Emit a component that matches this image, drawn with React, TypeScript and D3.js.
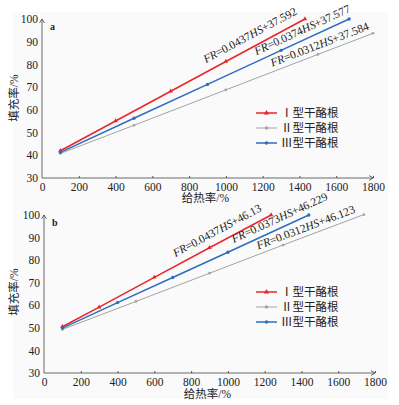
import React, { useRef, useEffect } from 'react';
import * as d3 from 'd3';

// tick values shared by both panels
const xTicks = [0, 200, 400, 600, 800, 1000, 1200, 1400, 1600, 1800];
const yTicks = [30, 40, 50, 60, 70, 80, 90, 100];

const seriesNames = ['Ⅰ型干酪根', 'Ⅱ型干酪根', 'Ⅲ型干酪根'];
const seriesColors = ['#e8262a', '#a3a3a3', '#2e6cc0'];

// panel a
const aRedX = [100, 400, 700, 1000, 1430];
const aRedY = [42.0, 55.1, 68.2, 81.3, 100.0];
const aGrayX = [100, 500, 1000, 1500, 1800];
const aGrayY = [40.8, 53.2, 68.8, 84.4, 93.7];
const aBlueX = [100, 500, 900, 1300, 1670];
const aBlueY = [41.3, 56.3, 71.2, 86.2, 100.0];
const aEquations = [
  ['0.0437', '37.592'],
  ['0.0312', '37.584'],
  ['0.0374', '37.577'],
];

// panel b
const bRedX = [100, 300, 600, 900, 1235];
const bRedY = [50.5, 59.2, 72.4, 85.5, 100.0];
const bGrayX = [100, 500, 900, 1300, 1740];
const bGrayY = [49.3, 61.7, 74.2, 86.7, 100.2];
const bBlueX = [100, 400, 700, 1000, 1440];
const bBlueY = [49.9, 61.2, 72.3, 83.5, 100.0];
const bEquations = [
  ['0.0437', '46.13'],
  ['0.0312', '46.123'],
  ['0.0373', '46.229'],
];

const SERIF = '"Liberation Serif", "Times New Roman", "Noto Sans CJK SC", serif';
const CJK = '"Liberation Serif", "Noto Sans CJK SC", serif';

const panels = [
  {
    letter: 'a',
    xRange: [42, 373], yRange: [178, 19],
    series: [[aRedX, aRedY], [aGrayX, aGrayY], [aBlueX, aBlueY]],
    eq: aEquations,
    eqStart: [912, 1262, 1180], eqOff: [8, 5, 6],
    legendY: 113, xTitleY: 202, yTitleY: 98,
  },
  {
    letter: 'b',
    xRange: [44, 375], yRange: [373, 215],
    series: [[bRedX, bRedY], [bGrayX, bGrayY], [bBlueX, bBlueY]],
    eq: bEquations,
    eqStart: [735, 1175, 1045], eqOff: [8, 5, 6],
    legendY: 292, xTitleY: 398, yTitleY: 292,
  },
];

const App = () => {
  const svgRef = useRef(null);

  useEffect(() => {
    const svg = d3.select(svgRef.current);
    svg.selectAll('*').remove();

    svg.append('rect')
      .attr('x', 13).attr('y', 12)
      .attr('width', 375).attr('height', 387)
      .attr('fill', '#fafafa');

    panels.forEach(p => {
      const g = svg.append('g');
      const x = d3.scaleLinear().domain([0, 1800]).range(p.xRange);
      const y = d3.scaleLinear().domain([30, 100]).range(p.yRange);

      // axes
      const xAxis = g.append('g')
        .attr('transform', `translate(0,${y(30)})`)
        .call(d3.axisBottom(x).tickValues(xTicks).tickFormat(d3.format('d'))
          .tickSizeInner(-2).tickSizeOuter(0).tickPadding(5));
      const yAxis = g.append('g')
        .attr('transform', `translate(${x(0)},0)`)
        .call(d3.axisLeft(y).tickValues(yTicks).tickFormat(d3.format('d'))
          .tickSizeInner(0).tickSizeOuter(0).tickPadding(4));
      [xAxis, yAxis].forEach(ax => {
        ax.select('.domain').remove();
        ax.selectAll('line').attr('stroke', '#555');
        ax.selectAll('text')
          .style('font-family', SERIF)
          .style('font-size', '11.5px')
          .attr('fill', '#222');
      });
      xAxis.selectAll('.tick').filter(d => d === 0).select('line').remove();

      // axis lines with arrow heads
      g.append('path')
        .attr('d', `M${x(0)},${y(30)}H${x(1800)}M${x(1800) - 4},${y(30) - 2.5}L${x(1800)},${y(30)}L${x(1800) - 4},${y(30) + 2.5}`)
        .attr('fill', 'none').attr('stroke', '#444').attr('stroke-width', 0.8);
      g.append('path')
        .attr('d', `M${x(0)},${y(30)}V${y(100)}M${x(0) - 2.5},${y(100) + 4}L${x(0)},${y(100)}L${x(0) + 2.5},${y(100) + 4}`)
        .attr('fill', 'none').attr('stroke', '#444').attr('stroke-width', 0.8);

      // series lines and markers
      const line = d3.line().x(d => x(d[0])).y(d => y(d[1]));
      p.series.forEach(([xs, ys], i) => {
        const pts = xs.map((v, k) => [v, ys[k]]);
        g.append('path')
          .attr('d', line(pts))
          .attr('fill', 'none')
          .attr('stroke', seriesColors[i])
          .attr('stroke-width', i === 1 ? 1 : 1.5);
        const sym = i === 0 ? d3.symbolTriangle : d3.symbolCircle;
        const size = i === 0 ? 9 : i === 1 ? 6 : 9;
        g.selectAll(null).data(pts).enter().append('path')
          .attr('d', d3.symbol().type(sym).size(size))
          .attr('transform', d => `translate(${x(d[0])},${y(d[1])})`)
          .attr('fill', seriesColors[i]);
      });

      // equation labels along lines
      p.series.forEach(([xs, ys], i) => {
        const n = xs.length - 1;
        const k = (ys[n] - ys[0]) / (xs[n] - xs[0]);
        const hs = p.eqStart[i];
        const px = x(hs);
        const py = y(ys[0] + k * (hs - xs[0]));
        const ang = Math.atan2(y(ys[0] + k * 100) - y(ys[0]), x(100) - x(0));
        const t = g.append('text')
          .attr('transform', `translate(${px},${py}) rotate(${ang * 180 / Math.PI}) translate(0,${-p.eqOff[i]})`)
          .style('font-family', SERIF)
          .style('font-size', '11.5px')
          .attr('fill', '#222');
        t.append('tspan').style('font-style', 'italic').text('FR');
        t.append('tspan').text(`=${p.eq[i][0]}`);
        t.append('tspan').style('font-style', 'italic').text('HS');
        t.append('tspan').text(`+${p.eq[i][1]}`);
      });

      // legend
      seriesNames.forEach((name, i) => {
        const ly = p.legendY + i * 15;
        g.append('line')
          .attr('x1', 256).attr('x2', 277)
          .attr('y1', ly).attr('y2', ly)
          .attr('stroke', seriesColors[i])
          .attr('stroke-width', i === 1 ? 1 : 1.5);
        g.append('path')
          .attr('d', d3.symbol().type(i === 0 ? d3.symbolTriangle : d3.symbolCircle).size(i === 0 ? 12 : 9))
          .attr('transform', `translate(266.5,${ly})`)
          .attr('fill', seriesColors[i]);
        g.append('text')
          .attr('x', 281).attr('y', ly + 4)
          .style('font-family', CJK)
          .style('font-size', '11.5px')
          .attr('fill', '#222')
          .text(name);
      });

      // titles
      g.append('text')
        .attr('x', (p.xRange[0] + p.xRange[1]) / 2 - 2)
        .attr('y', p.xTitleY)
        .attr('text-anchor', 'middle')
        .style('font-family', CJK)
        .style('font-size', '11.5px')
        .attr('fill', '#222')
        .text('给热率/%');
      g.append('text')
        .attr('transform', `translate(18,${p.yTitleY}) rotate(-90)`)
        .attr('text-anchor', 'middle')
        .style('font-family', CJK)
        .style('font-size', '11.5px')
        .attr('fill', '#222')
        .text('填充率/%');
      g.append('text')
        .attr('x', x(0) + 8).attr('y', y(100) + 11)
        .style('font-family', SERIF)
        .style('font-size', '10px')
        .style('font-weight', 'bold')
        .attr('fill', '#222')
        .text(p.letter);
    });
  }, []);

  return (
    <svg
      ref={svgRef}
      width={399}
      height={405}
      style={{ position: 'absolute', left: 0, top: 0, background: '#fff' }}
    ></svg>
  );
};

export default App;
